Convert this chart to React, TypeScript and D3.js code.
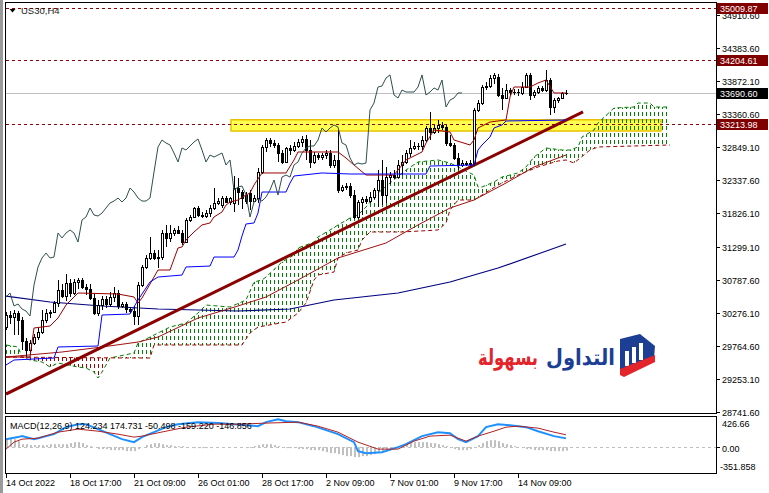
import * as d3 from "d3";

// US30 H4 bars: [open, high, low, close]
const candles: [number, number, number, number][] = [
  [30054, 30288, 30008, 30241], [30241, 30303, 30101, 30210], [30210, 30319, 29930, 30272], [30272, 30303, 29930, 30163],
  [30163, 30210, 29697, 29837], [29837, 29884, 29588, 29697], [29697, 29852, 29619, 29806], [29806, 29946, 29775, 29899],
  [29899, 30039, 29852, 29977], [29977, 30319, 29946, 30163], [30163, 30334, 30117, 30272], [30272, 30319, 30194, 30288],
  [30288, 30458, 30272, 30427], [30427, 30785, 30365, 30629], [30629, 30723, 30505, 30536], [30536, 30878, 30458, 30738],
  [30738, 30800, 30521, 30583], [30583, 30800, 30552, 30754], [30754, 30816, 30645, 30785], [30785, 30816, 30645, 30676],
  [30676, 30723, 30552, 30645], [30645, 30723, 30474, 30505], [30505, 30583, 30241, 30272], [30272, 30474, 30225, 30396],
  [30396, 30536, 30319, 30490], [30490, 30536, 30350, 30412], [30412, 30598, 30365, 30521], [30521, 30676, 30443, 30583],
  [30583, 30629, 30334, 30381], [30381, 30443, 30350, 30412], [30412, 30443, 30272, 30334], [30334, 30365, 30272, 30303],
  [30303, 30381, 30086, 30225], [30225, 30754, 30086, 30707], [30707, 31018, 30676, 30987], [30987, 31173, 30956, 31127],
  [31127, 31453, 31096, 31204], [31204, 31251, 31096, 31127], [31127, 31251, 30971, 31142], [31142, 31562, 31096, 31515],
  [31515, 31640, 31298, 31438], [31438, 31640, 31375, 31515], [31515, 31593, 31469, 31562], [31562, 31624, 31500, 31515],
  [31515, 31562, 31329, 31375], [31375, 31748, 31360, 31717], [31717, 31795, 31686, 31764], [31764, 31919, 31748, 31904],
  [31904, 31935, 31764, 31795], [31795, 31842, 31748, 31779], [31779, 31873, 31748, 31826], [31826, 31950, 31764, 31904],
  [31904, 32214, 31873, 31981], [31981, 32059, 31950, 32012], [31950, 32090, 31904, 32059], [32059, 32090, 31981, 31997],
  [31997, 32075, 31950, 32059], [31981, 32401, 31842, 32214], [32214, 32370, 31950, 32152], [32152, 32183, 31888, 32059],
  [32106, 32152, 31966, 32012], [32137, 32183, 31873, 32012], [32012, 32106, 31997, 32059], [32059, 32525, 31981, 32463],
  [32463, 32883, 32432, 32852], [32852, 32991, 32774, 32960], [32960, 32991, 32852, 32914], [32914, 32960, 32836, 32883],
  [32883, 32914, 32619, 32758], [32758, 32805, 32587, 32619], [32619, 32852, 32603, 32836], [32836, 32883, 32727, 32805],
  [32805, 32929, 32774, 32867], [32867, 32976, 32836, 32929], [32929, 33023, 32852, 32976], [32976, 33038, 32650, 32805],
  [32805, 32960, 32525, 32619], [32619, 32774, 32587, 32727], [32727, 32758, 32650, 32696], [32696, 32758, 32650, 32727],
  [32727, 32805, 32665, 32758], [32758, 32805, 32525, 32572], [32572, 32727, 32525, 32650], [32650, 33116, 32137, 32183],
  [32183, 32261, 32152, 32230], [32230, 32292, 32183, 32246], [32246, 32292, 32059, 32106], [32106, 32183, 31733, 31764],
  [31764, 32028, 31733, 31997], [31997, 32075, 31795, 32044], [32044, 32090, 31966, 32012], [32012, 32152, 31981, 32075],
  [32075, 32214, 32044, 32183], [32183, 32494, 31919, 32339], [32339, 32650, 31950, 32106], [32106, 32541, 31981, 32385],
  [32385, 32463, 32277, 32416], [32416, 32494, 32354, 32385], [32385, 32650, 32370, 32572], [32572, 32727, 32416, 32619],
  [32619, 32805, 32587, 32758], [32758, 32960, 32696, 32836], [32836, 32929, 32805, 32867], [32867, 32914, 32805, 32867],
  [32867, 33023, 32805, 32960], [32960, 33178, 32929, 33147], [33147, 33396, 32960, 33085], [33085, 33194, 33054, 33147],
  [33147, 33271, 33069, 33194], [33194, 33240, 33116, 33162], [33162, 33194, 32867, 32914], [32914, 33038, 32852, 32883],
  [32883, 32914, 32650, 32681], [32681, 32758, 32494, 32572], [32572, 32650, 32541, 32603], [32603, 32634, 32556, 32587],
  [32587, 32650, 32541, 32603], [32603, 33458, 32556, 33427], [33427, 33582, 33396, 33535], [33535, 33815, 33504, 33784],
  [33784, 33862, 33737, 33800], [33800, 33971, 33769, 33924], [33924, 34002, 33831, 33971], [33939, 33986, 33629, 33660],
  [33660, 33769, 33427, 33613], [33613, 33831, 33613, 33737], [33737, 33769, 33660, 33706], [33706, 33753, 33660, 33706],
  [33706, 33753, 33644, 33706], [33691, 33862, 33660, 33784], [33784, 34002, 33769, 33971], [33971, 34002, 33582, 33660],
  [33660, 33737, 33613, 33706], [33706, 33800, 33675, 33769], [33769, 33800, 33706, 33737], [33737, 34048, 33706, 33893],
  [33893, 33924, 33349, 33473], [33473, 33613, 33380, 33582], [33582, 33629, 33535, 33613], [33613, 33706, 33598, 33691],
  [33691, 33737, 33660, 33691],
];

// ichimoku lines, [bar, price]
const tenkan: [number, number][] = [
  [0, 29588], [6, 29588], [7, 30039], [11, 30070], [13, 30194], [15, 30396], [18, 30583], [28, 30567], [32, 30521],
  [33, 30427], [34, 30505], [35, 30614], [38, 30940], [41, 30940], [43, 31282], [44, 31298], [45, 31406], [47, 31531],
  [49, 31640], [51, 31671], [52, 31764], [54, 31842], [55, 31950], [56, 31997], [58, 32028], [60, 32106], [61, 32137],
  [62, 32261], [64, 32448], [70, 32448], [72, 32650], [73, 32774], [83, 32774], [85, 32681], [87, 32572], [90, 32416],
  [97, 32416], [100, 32650], [104, 32774], [105, 32914], [107, 33116], [111, 33085], [112, 32960], [116, 32883],
  [117, 32960], [118, 33147], [121, 33240], [125, 33271], [126, 33629], [127, 33784], [131, 33784], [133, 33846],
  [135, 33893], [137, 33691], [140, 33691],
];
const kijun: [number, number][] = [
  [0, 29464], [2, 29542], [12, 29573], [13, 29744], [23, 29759], [24, 30241], [31, 30256], [32, 30365], [33, 30474],
  [36, 30754], [38, 30831], [44, 30862], [45, 30987], [51, 31002], [52, 31142], [57, 31142], [58, 31251], [59, 31469],
  [60, 31655], [62, 31671], [63, 31826], [64, 32152], [70, 32152], [71, 32292], [72, 32401], [79, 32448], [86, 32432],
  [105, 32432], [106, 32556], [117, 32572], [118, 32805], [119, 32883], [121, 33007], [122, 33147], [124, 33194],
  [125, 33256], [140, 33271],
];
const spanA: [number, number][] = [
  [0, 29775], [3, 29744], [4, 29588], [6, 29542], [9, 29511], [11, 29433], [13, 29495], [18, 29433], [20, 29417],
  [22, 29355], [23, 29262], [24, 29355], [26, 29573], [32, 29650], [33, 29806], [38, 29961], [41, 30054], [45, 30117],
  [48, 30272], [50, 30396], [56, 30365], [60, 30474], [62, 30754], [64, 30785], [65, 30831], [69, 31065], [72, 31173],
  [73, 31282], [77, 31375], [78, 31453], [81, 31562], [83, 31640], [86, 31748], [88, 31795], [90, 31919], [93, 32137],
  [96, 32292], [100, 32494], [103, 32619], [108, 32650], [111, 32603], [113, 32541], [117, 32416], [118, 32230],
  [119, 32230], [122, 32308], [124, 32385], [128, 32448], [130, 32541], [132, 32696], [135, 32836], [139, 32805],
  [141, 32805], [143, 32852], [144, 33007], [147, 33116], [148, 33225], [152, 33458], [157, 33473], [158, 33535],
  [161, 33535], [162, 33473], [166, 33473],
];
const spanB: [number, number][] = [
  [0, 29588], [30, 29573], [36, 29573], [37, 29775], [59, 29775], [61, 29961], [63, 30054], [70, 30132], [73, 30272],
  [75, 30427], [77, 30785], [78, 30862], [82, 30909], [83, 31127], [85, 31204], [88, 31251], [89, 31406], [91, 31531],
  [99, 31531], [108, 31562], [110, 31671], [111, 31873], [113, 32028], [117, 32028], [123, 32261], [128, 32416],
  [133, 32541], [138, 32634], [140, 32650], [142, 32603], [146, 32805], [148, 32852], [166, 32883],
];
const maFast: [number, number][] = [
  [0, 29588], [14, 29666], [24, 29744], [33, 29821], [38, 29899], [48, 30194], [58, 30381], [65, 30521], [73, 30785],
  [83, 31127], [95, 31360], [103, 31640], [111, 31904], [117, 32028], [125, 32292], [132, 32541], [140, 32727],
];
const maSlow: [number, number][] = [
  [0, 30536], [11, 30443], [24, 30381], [38, 30334], [58, 30303], [71, 30334], [82, 30474], [98, 30583], [111, 30754],
  [123, 30971], [133, 31189], [140, 31344],
];
const trendLine: [number, number][] = [[0, 29013], [144.25, 33396]];
const zoneBars = [56.25, 163.75];
const zonePrices = [33275, 33100];
const levels = [35009.87, 34204.61, 33213.98];
const lastPrice = 33690.6;
const priceTicks = [34910.6, 34383.6, 33872.1, 33360.6, 32849.1, 32337.6, 31826.1, 31299.1, 30787.6, 30276.1, 29764.6, 29253.1, 28741.6];
const dateBars = [0, 16, 32, 48, 64, 80, 96, 112, 128];
const dateLabels = ["14 Oct 2022", "18 Oct 17:00", "21 Oct 09:00", "26 Oct 01:00", "28 Oct 17:00", "2 Nov 09:00", "7 Nov 01:00", "9 Nov 17:00", "14 Nov 09:00"];

// MACD(12,26,9)
const macdMain: [number, number][] = [
  [0, 113], [3, 142], [4, 156], [7, 113], [8, 127], [12, 184], [15, 283], [18, 325], [20, 325], [23, 255], [26, 184],
  [29, 113], [32, 71], [34, 142], [37, 212], [40, 283], [43, 325], [48, 354], [53, 340], [57, 325], [63, 297], [65, 354],
  [68, 396], [70, 368], [73, 354], [77, 297], [80, 241], [83, 184], [87, 71], [88, -57], [90, -85], [94, -71], [98, 0],
  [100, 42], [104, 156], [108, 212], [111, 198], [113, 113], [115, 71], [118, 156], [120, 283], [123, 325], [126, 311],
  [130, 283], [133, 226], [137, 156], [140, 124],
];
const macdSignal: [number, number][] = [
  [0, -28], [2, 71], [4, 113], [8, 127], [13, 212], [18, 255], [23, 226], [28, 184], [32, 142], [34, 156], [40, 226],
  [45, 283], [52, 325], [58, 325], [65, 340], [73, 354], [78, 297], [83, 212], [88, 71], [93, -28], [98, -28], [102, 85],
  [106, 156], [111, 170], [115, 85], [118, 156], [122, 226], [125, 283], [128, 297], [133, 269], [137, 212], [140, 175],
];
const macdHist = [
  127, 127, 113, 85,
  42, 42, 28, 28, 28, 28, 28, 42, 42, 42, 42, 42,
  57, 71, 71, 57,
  28, 14, 0,
  -28, -28, -28, -42, -42,
  -42, -42, -57, -57, -57, -28, 0,
  28, 42, 57, 57, 42, 28, 28, 14,
  14, 14, 0, 0, -14, -14, -14, -14, -14, 0, 0, 0, 0, 0, 0, 0, 0, -14, -14,
  14, 28, 42, 42, 42, 28, 14, 0,
  -14, -14, -14, -28, -28, -28, -42, -42, -42,
  -57, -71, -85, -85, -99, -113, -127, -127, -142, -142, -127, -127, -113, -99, -85,
  -71, -57, -42, -14,
  14, 28, 42, 57, 71, 71, 71, 71, 57, 57, 42, 28, 14,
  -14, -28, -42, -42, -42, -28, -14,
  28, 57, 85, 99, 99, 85, 57,
  42, 28, 14, 0, -14,
  -28, -28, -42, -42, -42, -42, -57, -57, -57, -57, -50,
];
const macdRange = [-351.858, 426.66];
const macdText = "MACD(12,26,9) 124.234 174.731 -50.498 -159.220 -146.856";

const FONT = "'Liberation Sans', Arial, sans-serif";

export default function App() {
  const x = d3.scaleLinear().domain([0, 1]).range([6, 10]);
  const y = d3.scaleLinear().domain([28741.6, 34910.6]).range([411.5, 14.5]);
  const ym = d3.scaleLinear().domain(macdRange).range([472, 417]);

  const line = d3.line<[number, number]>().x((d) => x(d[0])).y((d) => y(d[1]));
  const mline = d3.line<[number, number]>().x((d) => x(d[0])).y((d) => ym(d[1]));

  const chikou: [number, number][] = candles.slice(26).map((c, i) => [i, c[3]]);

  const firstBar = spanB[0][0];
  const lastBar = spanB[spanB.length - 1][0];
  const cloud = line([...spanA, ...spanB.slice().reverse()]) + "Z";
  const aboveB = line(spanB) + `L${x(lastBar)},0L${x(firstBar)},0Z`;
  const belowB = line(spanB) + `L${x(lastBar)},420L${x(firstBar)},420Z`;

  const zero = ym(0);

  return (
    <svg
      width={769}
      height={493}
      style={{ position: "fixed", left: 0, top: 0, background: "#fff" }}
      fontFamily={FONT}
    >
      <defs>
        <clipPath id="main">
          <rect x={6} y={3} width={710} height={410} />
        </clipPath>
        <clipPath id="sub">
          <rect x={6} y={417} width={710} height={56} />
        </clipPath>
        <clipPath id="upB">
          <path d={aboveB} />
        </clipPath>
        <clipPath id="downB">
          <path d={belowB} />
        </clipPath>
        <pattern id="hatchG" patternUnits="userSpaceOnUse" x={x(0)} y={0} width={4} height={7}>
          <rect x={0} y={0} width={1} height={4} fill="#008000" />
        </pattern>
        <pattern id="hatchR" patternUnits="userSpaceOnUse" x={x(0)} y={0} width={4} height={7}>
          <rect x={0} y={0} width={1} height={4} fill="#a00000" />
        </pattern>
      </defs>

      <rect x={0} y={0} width={769} height={493} fill="#fff" />
      <rect x={0} y={0} width={3} height={493} fill="#9a9a9a" />

      <g clipPath="url(#main)">
        {/* zone */}
        <rect
          x={x(zoneBars[0])}
          y={y(zonePrices[0])}
          width={x(zoneBars[1]) - x(zoneBars[0])}
          height={y(zonePrices[1]) - y(zonePrices[0])}
          fill="#ffff4d"
          stroke="#e8c200"
          strokeWidth={1.5}
        />
        {levels.map((p) => (
          <line key={p} x1={6} x2={716} y1={Math.round(y(p)) + 0.5} y2={Math.round(y(p)) + 0.5}
            stroke="#8b0000" strokeDasharray="3,3" />
        ))}
        <line x1={6} x2={716} y1={Math.round(y(lastPrice)) + 0.5} y2={Math.round(y(lastPrice)) + 0.5} stroke="#c0c0c0" />

        {/* cloud */}
        <path d={cloud} fill="url(#hatchG)" clipPath="url(#upB)" />
        <path d={cloud} fill="url(#hatchR)" clipPath="url(#downB)" />
        <path d={line(spanA)!} fill="none" stroke="#008000" strokeDasharray="4,3" />
        <path d={line(spanB)!} fill="none" stroke="#a00000" strokeDasharray="4,3" />

        <path d={line(maSlow)!} fill="none" stroke="#000080" strokeWidth={1.2} />
        <path d={line(maFast)!} fill="none" stroke="#a01010" strokeWidth={1} />
        <path d={line(trendLine)!} fill="none" stroke="#8b0000" strokeWidth={3} />

        {/* candles */}
        {candles.map((c, i) => {
          const cx = x(i) + 0.5;
          const yo = Math.round(y(c[0]));
          const yc = Math.round(y(c[3]));
          const top = Math.min(yo, yc);
          const h = Math.abs(yo - yc);
          const up = c[3] >= c[0];
          return (
            <g key={i}>
              <line x1={cx} x2={cx} y1={Math.round(y(c[1]))} y2={Math.round(y(c[2]))} stroke="#000" />
              {h < 1 ? (
                <line x1={cx - 1.5} x2={cx + 1.5} y1={top + 0.5} y2={top + 0.5} stroke="#000" />
              ) : (
                <rect x={cx - 1} y={top + 0.5} width={2} height={h} fill={up ? "#fff" : "#000"} stroke="#000" />
              )}
            </g>
          );
        })}

        <path d={line(tenkan)!} fill="none" stroke="#990000" />
        <path d={line(kijun)!} fill="none" stroke="#0000ff" />
        <path d={line(chikou)!} fill="none" stroke="#2f4f4f" />
      </g>

      {/* frames */}
      <rect x={5.5} y={2.5} width={711} height={411} fill="none" stroke="#000" />
      <rect x={5.5} y={416.5} width={711} height={57} fill="none" stroke="#000" />

      {/* price axis */}
      {priceTicks.map((p) => {
        const py = Math.round(y(p)) + 0.5;
        return (
          <g key={p}>
            <line x1={717} x2={720} y1={py} y2={py} stroke="#000" />
            <text x={722} y={py + 3.5} fontSize={9} fill="#000">{p.toFixed(2)}</text>
          </g>
        );
      })}
      {levels.map((p) => {
        const py = Math.round(y(p)) + 0.5;
        return (
          <g key={p}>
            <rect x={717} y={py - 5.5} width={51} height={11} fill="#800000" />
            <text x={720} y={py + 3.5} fontSize={9} fill="#fff">{p.toFixed(2)}</text>
          </g>
        );
      })}
      <rect x={717} y={Math.round(y(lastPrice)) - 5} width={51} height={11} fill="#000" />
      <text x={720} y={Math.round(y(lastPrice)) + 4} fontSize={9} fill="#fff">{lastPrice.toFixed(2)}</text>

      {/* title */}
      <path d="M9.5,9 L15.5,9 L12.5,12.5 Z" fill="#000" />
      <text x={21} y={13.5} fontSize={9.5} fill="#1a1a1a">US30,H4</text>

      {/* MACD */}
      <g clipPath="url(#sub)">
        <line x1={6} x2={716} y1={Math.round(zero) + 0.5} y2={Math.round(zero) + 0.5} stroke="#c0c0c0" strokeDasharray="3,3" />
        {macdHist.map((v, i) => {
          const t = ym(Math.max(v, 0));
          const b = ym(Math.min(v, 0));
          return v === 0 ? null : (
            <rect key={i} x={x(i)} y={t} width={2} height={b - t} fill="#c0c0c0" />
          );
        })}
        <path d={mline(macdMain)!} fill="none" stroke="#1e90ff" strokeWidth={2} />
        <path d={mline(macdSignal)!} fill="none" stroke="#b22222" strokeWidth={1} />
      </g>
      <text x={10} y={429} fontSize={9} fill="#000">{macdText}</text>
      <line x1={717} x2={720} y1={Math.round(zero) + 0.5} y2={Math.round(zero) + 0.5} stroke="#000" />
      <text x={722} y={426.5} fontSize={9} fill="#000">{macdRange[1].toFixed(2)}</text>
      <text x={722} y={452} fontSize={9} fill="#000">0.00</text>
      <text x={720} y={470} fontSize={9} fill="#000">{macdRange[0].toFixed(3)}</text>

      {/* time axis */}
      {dateBars.map((b, i) => (
        <g key={b}>
          <line x1={x(b) + 0.5} x2={x(b) + 0.5} y1={474} y2={478} stroke="#000" />
          <text x={x(b)} y={486} fontSize={9} fill="#000">{dateLabels[i]}</text>
        </g>
      ))}

      {/* logo */}
      <g>
        <text x={478} y={365} fontSize={22} fontWeight="bold" fill="#e3242b"
          fontFamily="'DejaVu Sans', sans-serif" textLength={60} lengthAdjust="spacingAndGlyphs">بسهولة</text>
        <text x={546} y={365} fontSize={22} fontWeight="bold" fill="#1c3f94"
          fontFamily="'DejaVu Sans', sans-serif" textLength={69} lengthAdjust="spacingAndGlyphs">التداول</text>
        <path d="M620,339 L640,334 L655,346 L654,358 L622,371 L620,369 Z" fill="#1c3f94" />
        <rect x={625} y={351} width={4} height={15} fill="#fff" />
        <rect x={632} y={347} width={4} height={16} fill="#fff" />
        <rect x={639} y={343} width={4} height={17} fill="#fff" />
        <path d="M620,369 L655,355 L655,362 L624,377 L620,375 Z" fill="#e3242b" />
      </g>
    </svg>
  );
}
